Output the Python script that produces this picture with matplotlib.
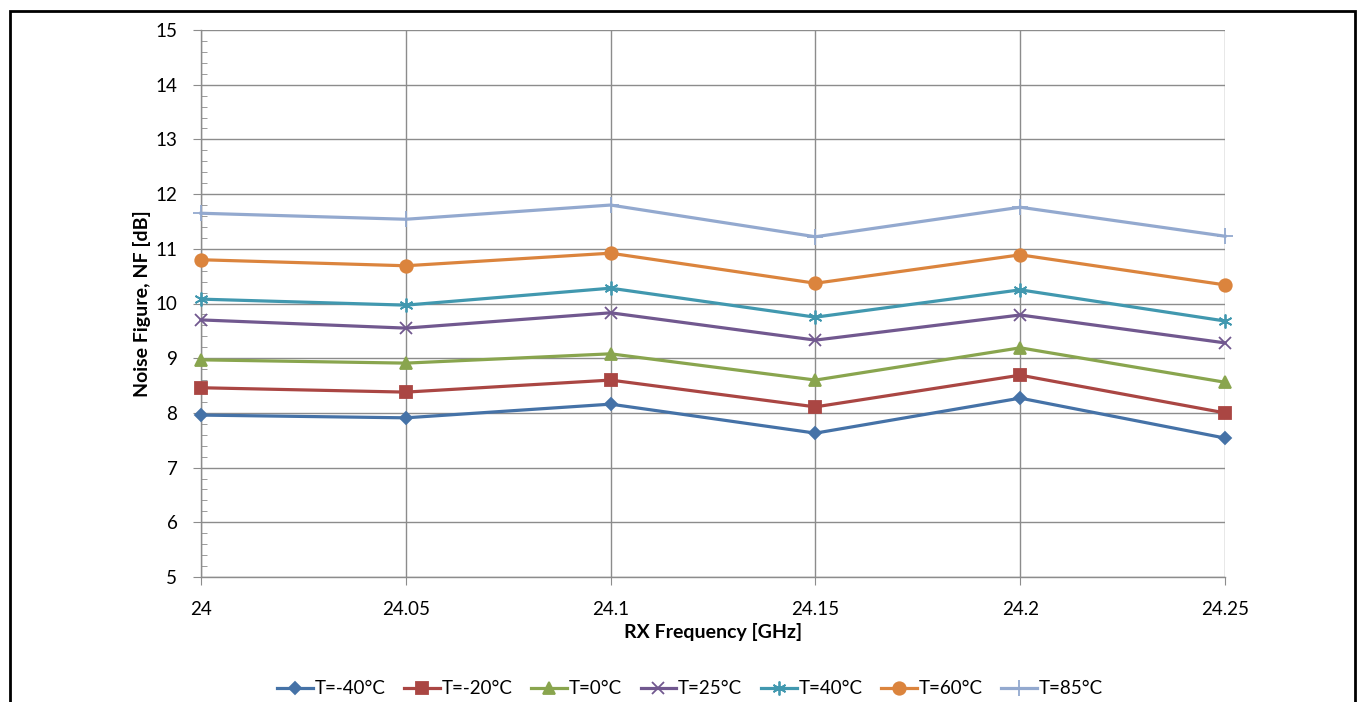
import matplotlib
matplotlib.use("Agg")
import matplotlib.pyplot as plt
from matplotlib.patches import Rectangle
from matplotlib.ticker import MultipleLocator

plt.rcParams['font.family'] = ['Lato', 'DejaVu Sans']

freq = [24.0, 24.05, 24.1, 24.15, 24.2, 24.25]
nf_m40 = [7.96, 7.91, 8.16, 7.63, 8.27, 7.54]
nf_m20 = [8.46, 8.38, 8.60, 8.11, 8.69, 8.00]
nf_0 = [8.97, 8.91, 9.08, 8.60, 9.19, 8.56]
nf_25 = [9.70, 9.55, 9.83, 9.33, 9.79, 9.28]
nf_40 = [10.08, 9.97, 10.28, 9.75, 10.25, 9.68]
nf_60 = [10.80, 10.69, 10.92, 10.37, 10.89, 10.34]
nf_85 = [11.65, 11.54, 11.80, 11.22, 11.76, 11.23]
labels = ["T=-40°C", "T=-20°C", "T=0°C", "T=25°C", "T=40°C", "T=60°C", "T=85°C"]

series = [nf_m40, nf_m20, nf_0, nf_25, nf_40, nf_60, nf_85]
colors = ['#4572A7', '#AA4643', '#89A54E', '#71588F', '#4198AF', '#DB843D', '#93A9CF']
markers = ['D', 's', '^', 'x', (6, 2, 0), 'o', '+']
msizes = [6, 8, 8, 9, 10, 9, 11]

fig = plt.figure(figsize=(13.6, 7.02), dpi=100)
ax = fig.add_axes([201 / 1360, 1 - 577 / 702, 1024 / 1360, 547 / 702])

for y, c, m, ms, lab in zip(series, colors, markers, msizes, labels):
    ax.plot(freq, y, color=c, lw=2.3, marker=m, ms=ms, mew=1.3,
            mfc=c, mec=c, label=lab, clip_on=False, zorder=3)

ax.set_xlim(24.0, 24.25)
ax.set_ylim(5, 15)
ax.set_xticks(freq)
ax.set_xticklabels(["24", "24.05", "24.1", "24.15", "24.2", "24.25"])
ax.yaxis.set_major_locator(MultipleLocator(1))
ax.yaxis.set_minor_locator(MultipleLocator(0.2))

ax.grid(True, which='major', color='#8c8c8c', lw=1.0)
ax.set_axisbelow(True)
for s in ['top', 'right']:
    ax.spines[s].set_visible(False)
for s in ['left', 'bottom']:
    ax.spines[s].set_color('#8c8c8c')
    ax.spines[s].set_linewidth(1.0)

ax.tick_params(axis='both', which='major', direction='out', length=6,
               color='#8c8c8c', labelsize=13.5)
ax.tick_params(axis='y', which='minor', direction='in', length=4,
               color='#8c8c8c')
ax.tick_params(axis='y', which='major', pad=11)
ax.tick_params(axis='x', which='major', pad=11)

ax.set_xlabel("RX Frequency [GHz]", fontsize=14, fontweight='bold', labelpad=4)
ax.set_ylabel("Noise Figure, NF [dB]", fontsize=14, fontweight='bold', labelpad=3)

ax.legend(loc='center', bbox_to_anchor=(690 / 1360, 1 - 689 / 702),
          bbox_transform=fig.transFigure, ncol=7, frameon=False,
          fontsize=13.5, handlelength=1.9, columnspacing=1.0, handletextpad=0.1)

# outer frame, open at the bottom
fig.patches.append(Rectangle((10 / 1360, -0.05), 1345 / 1360, 1.05 - 11 / 702,
                             transform=fig.transFigure, fill=False,
                             edgecolor='black', lw=2, clip_on=False))

fig.savefig("out.png", dpi=100)
